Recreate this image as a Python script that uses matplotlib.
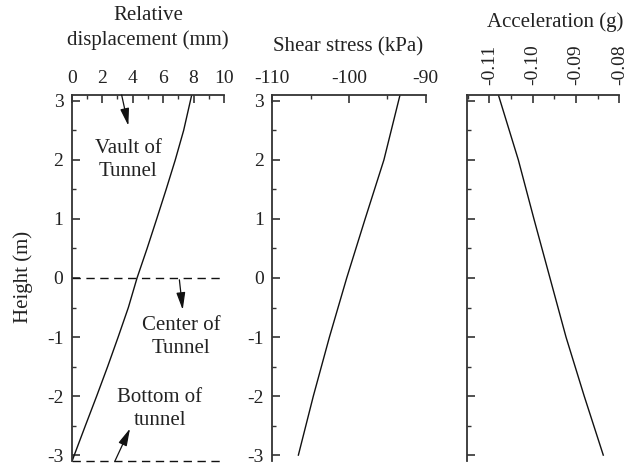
import matplotlib
matplotlib.use("Agg")
import matplotlib.pyplot as plt
from matplotlib.ticker import MultipleLocator

plt.rcParams['font.family'] = ['Liberation Serif', 'DejaVu Serif']
plt.rcParams['font.size'] = 15
plt.rcParams['axes.unicode_minus'] = False

# Heights (m) and the profiles read along them
heights = [-3.12, -3.0, -2.5, -2.0, -1.5, -1.0, -0.5, 0.0, 0.5, 1.0, 1.5, 2.0, 2.5, 3.1]
displacement = [0.0, 0.17, 0.9, 1.64, 2.36, 3.05, 3.72, 4.29, 4.95, 5.58, 6.2, 6.8, 7.35, 7.88]

heights_tau = [-3.0, -2.0, -1.0, 0.0, 1.0, 2.0, 3.1]
shear_stress = [-106.6, -104.65, -102.55, -100.3, -97.9, -95.45, -93.35]

heights_acc = [-3.0, -2.0, -1.0, 0.0, 1.0, 2.0, 3.1]
acceleration = [-0.0837, -0.0881, -0.0923, -0.0960, -0.0997, -0.1033, -0.1079]

disp_ticks = [0, 2, 4, 6, 8, 10]
tau_ticks = [-110, -100, -90]
acc_ticks = [-0.11, -0.10, -0.09, -0.08]
acc_labels = ['-0.11', '-0.10', '-0.09', '-0.08']
height_ticks = [-3, -2, -1, 0, 1, 2, 3]

W, H = 637, 463
fig = plt.figure(figsize=(W / 100, H / 100), dpi=100)

bottom = 2 / H
top = 95 / H
height = 1 - top - bottom
ax1 = fig.add_axes([71.7 / W, bottom, 152.3 / W, height])
ax2 = fig.add_axes([272.3 / W, bottom, 153.4 / W, height])
ax3 = fig.add_axes([467 / W, bottom, 152.3 / W, height])

line_kw = dict(color='#111111', lw=1.0)
for ax in (ax1, ax2, ax3):
    ax.set_ylim(-3.1, 3.1)
    ax.spines['right'].set_visible(False)
    ax.spines['bottom'].set_visible(False)
    for s in ('left', 'top'):
        ax.spines[s].set_linewidth(1.3)
        ax.spines[s].set_color('#333333')
    ax.xaxis.set_ticks_position('top')
    ax.yaxis.set_ticks_position('left')
    ax.set_yticks(height_ticks)
    ax.yaxis.set_minor_locator(MultipleLocator(0.5))
    ax.tick_params(which='major', direction='in', length=6, width=1.2,
                   color='#333333', labelsize=14, labelcolor='#222222')
    ax.tick_params(which='minor', direction='in', length=3, width=1.0,
                   color='#333333')
    ax.tick_params(axis='y', which='major', pad=6)
    ax.tick_params(axis='x', which='major', pad=6)
    ax.set_yticklabels([str(t) for t in height_ticks])

# Relative displacement
ax1.plot(displacement, heights, **line_kw)
ax1.set_xlim(0, 10)
ax1.set_xticks(disp_ticks)
ax1.xaxis.set_minor_locator(MultipleLocator(1))
dash_kw = dict(color='#111111', lw=1.0, linestyle=(0, (6, 4)), clip_on=False)
ax1.plot([0, 10], [0, 0], **dash_kw)
ax1.plot([0, 10], [-3.1, -3.1], **dash_kw)

arrow_kw = dict(arrowstyle='-|>,head_length=0.7,head_width=0.18', color='#111111',
                lw=0.9, shrinkA=0, shrinkB=0)
txt_kw = dict(ha='center', va='center', fontsize=15, color='#222222',
              linespacing=1.3)
ax1.text(3.7, 2.0, 'Vault of\nTunnel', **txt_kw)
ax1.annotate('', xy=(3.72, 2.58), xytext=(3.28, 3.1), arrowprops=arrow_kw)
ax1.text(7.2, -1.0, 'Center of\nTunnel', **txt_kw)
ax1.annotate('', xy=(7.29, -0.54), xytext=(7.07, -0.03), arrowprops=arrow_kw)
ax1.text(5.8, -2.22, 'Bottom of\ntunnel', **txt_kw)
ax1.annotate('', xy=(3.83, -2.55), xytext=(2.84, -3.1), arrowprops=arrow_kw,
             annotation_clip=False)

# Shear stress
ax2.plot(shear_stress, heights_tau, **line_kw)
ax2.set_xlim(-110, -90)
ax2.set_xticks(tau_ticks)
ax2.xaxis.set_minor_locator(MultipleLocator(5))

# Acceleration
ax3.plot(acceleration, heights_acc, **line_kw)
ax3.set_xlim(-0.11515, -0.08)
ax3.set_xticks(acc_ticks)
ax3.set_xticklabels(acc_labels, rotation=90)
ax3.xaxis.set_minor_locator(MultipleLocator(0.005))
ax3.tick_params(axis='x', which='major', pad=7)
ax3.set_yticklabels([])

# Axis titles
title_kw = dict(ha='center', va='center', fontsize=15, color='#222222')
fig.text(148 / W, 1 - 15 / H, 'Relative', **title_kw)
fig.text(148 / W, 1 - 40 / H, 'displacement (mm)', **title_kw)
fig.text(348 / W, 1 - 47 / H, 'Shear stress (kPa)', **title_kw)
fig.text(555 / W, 1 - 22 / H, 'Acceleration (g)', **title_kw)
fig.text(23 / W, 1 - 277 / H, 'Height (m)', rotation=90, **title_kw)

fig.savefig('out.png', dpi=100)
